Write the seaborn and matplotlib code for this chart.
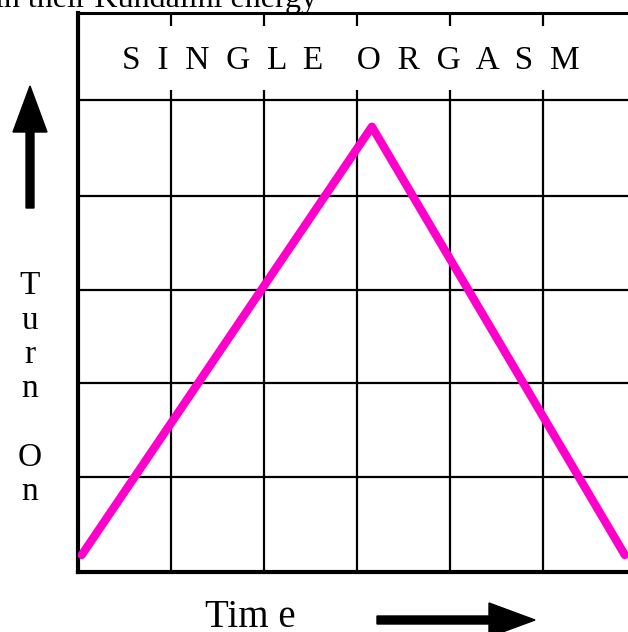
import seaborn as sns
import pandas as pd
import matplotlib.pyplot as plt
from matplotlib.patches import FancyArrow

# turn-on curve (grid cell = 1 unit)
time = [0.04, 3.16, 5.88]
turn_on = [0.18, 4.70, 0.18]
grid_x = [1, 2, 3, 4, 5]
grid_y = [1, 2, 2.98, 3.97, 4.98]
title = "S  I  N  G  L  E    O  R  G  A  S  M"
ylabel = "T\nu\nr\nn\n\nO\nn"
xlabel = "Tim e"
clipped_text = "in their Kundalini energy"

df = pd.DataFrame({"time": time, "turn_on": turn_on})

sns.set_style("white")
plt.rcParams['font.family'] = ['Liberation Serif', 'DejaVu Serif']
plt.rcParams['text.color'] = 'black'

W, H = 628, 632
fig = plt.figure(figsize=(W / 100, H / 100), dpi=100)
ax = fig.add_axes([78 / W, 60 / H, (636 - 78) / W, (572 - 13) / H])

ax.set_xlim(0, 6)
ax.set_ylim(0, 5.9)

for y in grid_y:
    ax.axhline(y, color="black", lw=1.6, zorder=1)
ax.vlines(grid_x, 0, 4.98, color="black", lw=1.6, zorder=1)
# small ticks inside the title row
ax.vlines(grid_x, 4.98, 5.09, color="black", lw=1.6, zorder=1)
ax.vlines(grid_x, 5.76, 5.9, color="black", lw=1.6, zorder=1)

sns.lineplot(data=df, x="time", y="turn_on", sort=False, color="#ff00cc",
             lw=6, ax=ax, zorder=3, solid_capstyle="round", solid_joinstyle="round")

ax.set_xticks([])
ax.set_yticks([])
ax.set_xlabel("")
ax.set_ylabel("")
ax.spines["left"].set_linewidth(3)
ax.spines["bottom"].set_linewidth(3)
ax.spines["top"].set_linewidth(2.2)
ax.spines["right"].set_visible(False)
for s in ax.spines.values():
    s.set_color("black")

ax.text(2.935, 5.40, title, ha="center", va="center", fontsize=24)

fig.text(30 / W, 1 - 389 / H, ylabel, ha="center", va="center", fontsize=24,
         linespacing=1.16)
fig.text(250 / W, 1 - 627 / H, xlabel, ha="center", va="baseline", fontsize=28)
fig.text(-5 / W, 1 - 7 / H, clipped_text, ha="left", va="baseline", fontsize=23)

# arrows
fig.patches.append(FancyArrow(30 / W, 1 - 208 / H, 0, (208 - 86) / H, width=8 / H,
                              head_width=34 / W, head_length=46 / H,
                              length_includes_head=True, color="black",
                              transform=fig.transFigure, figure=fig))
fig.patches.append(FancyArrow(377 / W, 1 - 620 / H, (535 - 377) / W, 0, width=8 / H,
                              head_width=34 / H, head_length=46 / W,
                              length_includes_head=True, color="black",
                              transform=fig.transFigure, figure=fig))

fig.savefig("out.png", dpi=100)
